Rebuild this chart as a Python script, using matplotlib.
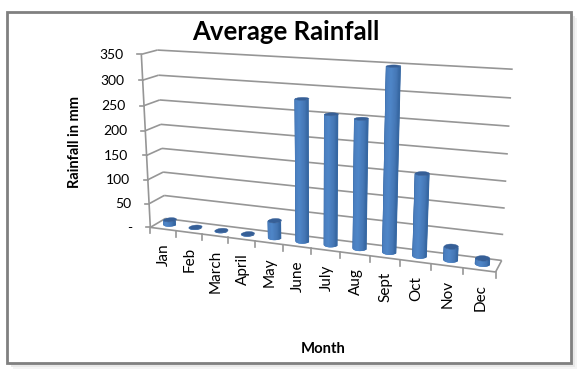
#!/usr/bin/python3
import numpy as np
import matplotlib
matplotlib.use('Agg')
import matplotlib.pyplot as plt
from matplotlib.colors import LinearSegmentedColormap
from matplotlib.patches import Rectangle

months = ['Jan', 'Feb', 'March', 'April', 'May', 'June', 'July', 'Aug', 'Sept', 'Oct', 'Nov', 'Dec']
rainfall = [10, 1, 1, 1, 35, 279, 254, 250, 349, 158, 26, 11]
y_ticks = [0, 50, 100, 150, 200, 250, 300, 350]
y_labels = ['-', '50', '100', '150', '200', '250', '300', '350']

W, H = 580, 378
YMAX = 350
N = len(months)

# (month pos, rainfall, depth) -> where the corners of the 3d box sit in pixels
calib = [
    (0, 0, 0, 150.7, 227.7), (12, 0, 0, 495.7, 271.7), (6, 0, 0, 311, 248.1),
    (0, YMAX, 0, 141, 54.3), (0, 0, 1, 165, 218.3), (12, 0, 1, 501.7, 260.7),
    (0, YMAX, 1, 157.7, 50), (12, YMAX, 1, 512.7, 69.3),
]


def fit_camera(points):
    rows = []
    for u, v, w, px, py in points:
        v = v / YMAX
        rows.append([u, v, w, 1, 0, 0, 0, 0, -px * u, -px * v, -px * w, -px])
        rows.append([0, 0, 0, 0, u, v, w, 1, -py * u, -py * v, -py * w, -py])
    return np.linalg.svd(np.array(rows, dtype=float))[2][-1].reshape(3, 4)


cam = fit_camera(calib)


def proj(u, v, w):
    u, v, w = np.broadcast_arrays(u, np.asarray(v, dtype=float) / YMAX, w)
    p = cam @ np.array([u, v, w, np.ones_like(u)], dtype=float)
    return p[0] / p[2], p[1] / p[2]


def line3d(a, b, **kw):
    xa, ya = proj(*a)
    xb, yb = proj(*b)
    ax.plot([xa, xb], [ya, yb], solid_capstyle='butt', **kw)


fig = plt.figure(figsize=(W / 100, H / 100), dpi=100)
ax = fig.add_axes([0, 0, 1, 1])
ax.axis('off')

plt.rcParams['font.family'] = ['Lato', 'DejaVu Sans']

# picture frame with its soft shadow
for off, col in ((6, '#f4f4f4'), (4, '#e8e8e8'), (2, '#d4d4d4')):
    ax.add_patch(Rectangle((7 + off, 12 + off), 564, 351, fc=col, ec='none', zorder=0))
ax.add_patch(Rectangle((7, 12), 564, 351, fc='white', ec='#808080', lw=2, zorder=1))

grid = dict(color='#969696', lw=1.2, zorder=2)
for t in y_ticks:
    line3d((0, t, 0), (0, t, 1), **grid)
    line3d((0, t, 1), (12, t, 1), **grid)
    x, y = proj(0, t, 0)
    ax.plot([x - 4, x], [y, y], **grid)
    ax.text(x - 18, y + 0.5, y_labels[y_ticks.index(t)], ha='right', va='center', fontsize=10, color='black')
line3d((0, 0, 0), (0, YMAX, 0), **grid)
line3d((0, 0, 0), (12, 0, 0), **grid)
line3d((12, 0, 0), (12, 0, 1), **grid)

for i in range(N + 1):
    x, y = proj(i, 0, 0)
    ax.plot([x, x], [y, y + 6], **grid)

for i, m in enumerate(months):
    x, y = proj(i + 0.5, 0, 0)
    ax.text(x + 1, y + 14.5, m, rotation=90, ha='center', va='top', fontsize=11, color='black')

# cylinders: flat body, then thin unsnapped lines down its length for the shading
shade = LinearSegmentedColormap.from_list('cyl', ['#34649f', '#4a7ebe', '#4f86c8', '#4577b5', '#30609a'])
RU, RW = 0.215, 0.23
for i, val in reversed(list(enumerate(rainfall))):
    c = i + 0.5
    ang = np.linspace(np.pi, 2 * np.pi, 25)
    us = c + RU * np.cos(ang)
    ws = 0.5 + RW * np.sin(ang)
    xb, yb = proj(us, 0, ws)
    xt, yt = proj(us, val, ws)
    ax.fill(np.r_[xb, xt[::-1]], np.r_[yb, yt[::-1]], fc=shade(0.5), ec='none', zorder=4, snap=False)
    for k in range(2, len(ang) - 2):
        ax.plot([xt[k], xb[k]], [yt[k], yb[k]], color=shade(k / (len(ang) - 1)), lw=1.0,
                solid_capstyle='butt', zorder=4.5, snap=False)
    # the two outer rims
    for k in (1, len(ang) - 2):
        ax.plot([xt[k], xb[k]], [yt[k], yb[k]], color=shade(k / (len(ang) - 1)), lw=0.9,
                solid_capstyle='butt', zorder=4.4, snap=False)
    a = np.linspace(0, 2 * np.pi, 41)
    xc, yc = proj(c + RU * np.cos(a), val, 0.5 + RW * np.sin(a))
    ax.fill(xc, yc, fc='#365f97', ec='#365f97', lw=0.3, zorder=5, snap=False)

ax.text(286, 32, 'Average Rainfall', ha='center', va='center', fontsize=18.5, fontweight='bold', color='black')
ax.text(75, 142, 'Rainfall in mm', rotation=90, ha='center', va='center', fontsize=10.5, fontweight='bold', color='black')
ax.text(323, 349, 'Month', ha='center', va='center', fontsize=10.7, fontweight='bold', color='black')

ax.set_xlim(0, W)
ax.set_ylim(H, 0)
fig.savefig('out.png', dpi=100)
